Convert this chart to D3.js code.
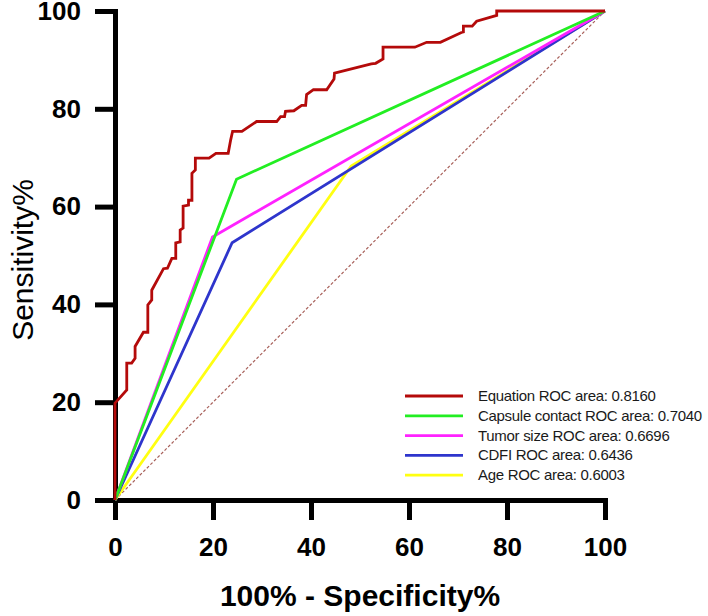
<!DOCTYPE html>
<html>
<head>
<meta charset="utf-8">
<script src="https://cdn.jsdelivr.net/npm/d3@7"></script>
<style>
  html, body { margin: 0; padding: 0; background: #fff; }
  svg { display: block; }
</style>
</head>
<body>
<svg id="chart" width="708" height="616"></svg>
<script>
// ---- data (percent) ----
const xTicks = [0, 20, 40, 60, 80, 100];
const yTicks = [0, 20, 40, 60, 80, 100];

const equationFPR = [0, 0, 2.4, 2.4, 3.4, 4.1, 4.1, 5.8, 6.7, 6.7, 7.5, 7.5, 9.9, 10.7, 11.6, 12.4, 12.4, 13.3, 13.3, 13.9, 13.9, 15.0, 15.0, 15.7, 15.7, 16.4, 16.4, 19.2, 20.6, 23.1, 23.6, 24.0, 25.9, 28.9, 33.0, 33.8, 34.6, 34.8, 36.5, 38.1, 38.9, 39.1, 40.5, 43.2, 44.7, 44.8, 52.3, 53.2, 54.7, 54.7, 61.2, 63.6, 66.4, 70.7, 71.1, 71.1, 72.9, 73.8, 77.9, 77.9, 100];
const equationTPR = [0, 19.8, 22.5, 28.0, 28.0, 29.0, 31.4, 34.3, 34.3, 39.9, 40.9, 42.9, 47.3, 47.4, 49.4, 49.4, 52.6, 52.8, 55.2, 55.6, 60.1, 60.3, 61.3, 61.3, 66.8, 67.5, 69.9, 69.9, 70.9, 70.9, 73.6, 75.4, 75.4, 77.4, 77.4, 78.4, 78.4, 79.5, 79.6, 80.7, 80.7, 82.9, 83.9, 83.9, 86.1, 87.3, 89.2, 89.3, 90.2, 92.6, 92.6, 93.6, 93.6, 95.6, 95.7, 96.9, 96.9, 97.9, 99.1, 100, 100];

const capsuleFPR = [0, 24.8, 100];
const capsuleTPR = [0, 65.6, 100];
const tumorFPR   = [0, 19.9, 100];
const tumorTPR   = [0, 53.8, 100];
const cdfiFPR    = [0, 23.9, 100];
const cdfiTPR    = [0, 52.6, 100];
const ageFPR     = [0, 48.2, 100];
const ageTPR     = [0, 68.3, 100];

const seriesNames = ["Equation", "Capsule contact", "Tumor size", "CDFI", "Age"];
const seriesAUC   = ["0.8160", "0.7040", "0.6696", "0.6436", "0.6003"];
const seriesColors = ["#b40a0a", "#22ee22", "#ff22ff", "#2e35cc", "#ffff11"];

const xTitle = "100% - Specificity%";
const yTitle = "Sensitivity%";

// ---- layout ----
const svg = d3.select("#chart");
const x = d3.scaleLinear().domain([0, 100]).range([115, 605]);
const y = d3.scaleLinear().domain([0, 100]).range([500, 11]);

const axisFont = "'Liberation Sans', Arial, sans-serif";

// axes
const gx = svg.append("g").attr("transform", `translate(0,${y(0)})`)
  .call(d3.axisBottom(x).tickValues(xTicks).tickSize(20).tickSizeOuter(0).tickPadding(18));
const gy = svg.append("g").attr("transform", `translate(${x(0)},0)`)
  .call(d3.axisLeft(y).tickValues(yTicks).tickSize(20).tickSizeOuter(0).tickPadding(14));

[gx, gy].forEach(g => {
  g.select(".domain").attr("stroke", "#000").attr("stroke-width", 5).attr("stroke-linecap", "square");
  g.selectAll(".tick line").attr("stroke", "#000").attr("stroke-width", 5);
  g.selectAll(".tick text")
    .attr("fill", "#000")
    .style("font-family", axisFont)
    .style("font-weight", "bold")
    .style("font-size", "26px");
});

// diagonal reference
svg.append("line")
  .attr("x1", x(0)).attr("y1", y(0)).attr("x2", x(100)).attr("y2", y(100))
  .attr("stroke", "#a8605a").attr("stroke-width", 1.2).attr("stroke-dasharray", "3,2");

const line = d3.line().x(d => x(d[0])).y(d => y(d[1]));
const allSeries = [
  [ageFPR, ageTPR, 4],
  [cdfiFPR, cdfiTPR, 3],
  [tumorFPR, tumorTPR, 2],
  [capsuleFPR, capsuleTPR, 1],
  [equationFPR, equationTPR, 0]
];
allSeries.forEach(([fx, ty, i]) => {
  svg.append("path")
    .datum(fx.map((v, k) => [v, ty[k]]))
    .attr("d", line)
    .attr("fill", "none")
    .attr("stroke", seriesColors[i])
    .attr("stroke-width", 2.8)
    .attr("stroke-linejoin", "miter");
});

// axis titles
svg.append("text")
  .attr("x", 360).attr("y", 606)
  .attr("text-anchor", "middle")
  .style("font-family", axisFont).style("font-weight", "bold").style("font-size", "30px")
  .text(xTitle);

svg.append("text")
  .attr("transform", "translate(33,260) rotate(-90)")
  .attr("text-anchor", "middle")
  .style("font-family", axisFont).style("font-size", "30px")
  .text(yTitle);

// legend
const legend = svg.append("g");
seriesNames.forEach((name, i) => {
  const cy = 396 + i * 19.8;
  legend.append("line")
    .attr("x1", 405).attr("x2", 463).attr("y1", cy).attr("y2", cy)
    .attr("stroke", seriesColors[i]).attr("stroke-width", 2.8);
  legend.append("text")
    .attr("x", 478).attr("y", cy + 5)
    .style("font-family", axisFont).style("font-size", "15px")
    .style("letter-spacing", "-0.3px")
    .attr("fill", "#1a1a1a")
    .text(`${name} ROC area: ${seriesAUC[i]}`);
});
</script>
</body>
</html>
